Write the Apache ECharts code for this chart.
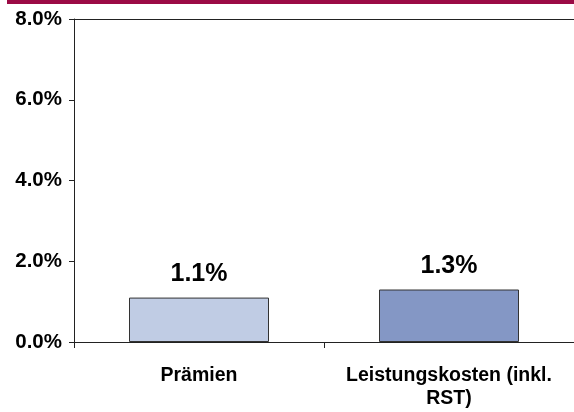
<!DOCTYPE html>
<html><head><meta charset="utf-8">
<script src="https://cdn.jsdelivr.net/npm/echarts@6/dist/echarts.min.js"></script>
<style>html,body{margin:0;padding:0;background:#fff}#c{width:574px;height:412px}</style>
</head><body><div id="c"></div>
<script>
const categories = ['Prämien', 'Leistungskosten (inkl.\nRST)'];
const values = [1.1, 1.3];
const barColors = ['#C0CCE4', '#8497C5'];
const yTicks = [0, 2, 4, 6, 8];

const chart = echarts.init(document.getElementById('c'));
const font = '"Liberation Sans", Arial, sans-serif';
chart.setOption({
  animation: false,
  graphic: [{type: 'rect', shape: {x: 7, y: 0, width: 567, height: 4}, style: {fill: '#9B0A45'}}],
  grid: {left: 74, right: -3, top: 19, bottom: 70},
  xAxis: [{
    type: 'category', data: categories,
    axisLine: {lineStyle: {color: '#222', width: 1}},
    axisTick: {show: true, length: 6, lineStyle: {color: '#222'}},
    axisLabel: {interval: 0, hideOverlap: false, color: '#000', fontFamily: font, fontWeight: 'bold',
      fontSize: 19.5, lineHeight: 23, margin: 22}
  }, {
    type: 'category', data: categories, position: 'top',
    axisLine: {lineStyle: {color: '#222', width: 1}},
    axisTick: {show: false}, axisLabel: {show: false}
  }],
  yAxis: {
    type: 'value', min: 0, max: 8, interval: 2,
    axisLine: {show: true, lineStyle: {color: '#222', width: 1}},
    axisTick: {show: true, length: 5, lineStyle: {color: '#222'}},
    splitLine: {show: false},
    axisLabel: {color: '#000', fontFamily: font, fontWeight: 'bold', fontSize: 20.5, margin: 12,
      formatter: v => yTicks.includes(v) ? v.toFixed(1) + '%' : ''}
  },
  series: [{
    type: 'bar', barWidth: '56%',
    data: values.map((v, i) => ({value: v, itemStyle: {color: barColors[i]}})),
    itemStyle: {borderColor: '#333', borderWidth: 1},
    label: {show: true, position: 'top', distance: 11, color: '#000', fontFamily: font,
      fontWeight: 'bold', fontSize: 25, formatter: p => p.value.toFixed(1) + '%'}
  }]
});
</script></body></html>
